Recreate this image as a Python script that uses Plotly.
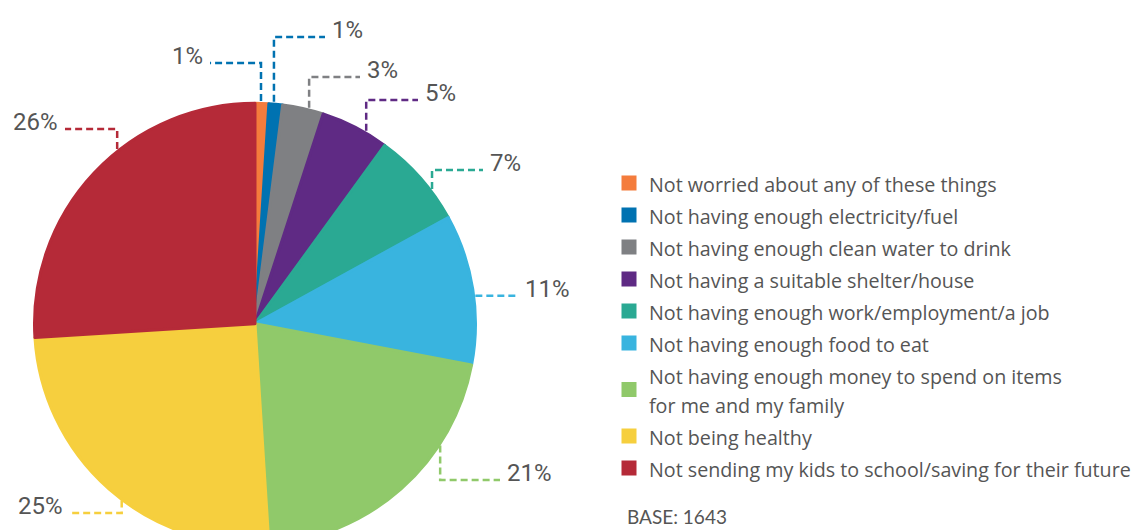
import math
import plotly.graph_objects as go

# ---- data -------------------------------------------------------------
categories = [
    "Not worried about any of these things",
    "Not having enough electricity/fuel",
    "Not having enough clean water to drink",
    "Not having a suitable shelter/house",
    "Not having enough work/employment/a job",
    "Not having enough food to eat",
    "Not having enough money to spend on items<br>for me and my family",
    "Not being healthy",
    "Not sending my kids to school/saving for their future",
]
shares = [1, 1, 3, 5, 7, 11, 21, 25, 26]
base_n = 1643

colors = [
    "#F47C3C", "#0072B1", "#7F8083", "#5F2A84", "#2AA993",
    "#39B4DF", "#90C96A", "#F6CF3E", "#B52A38",
]
# dashed leader colours (both 1% callouts are drawn in blue)
leader_colors = [
    "#0072B1", "#0072B1", "#7F8083", "#5F2A84", "#2AA993",
    "#39B4DF", "#90C96A", "#F6CF3E", "#B52A38",
]

# ---- layout constants (pixels) ---------------------------------------
W, H = 1131, 545
CX, CY, R = 255, 323, 222
TEXT_GREY = "#555555"

# leader style per slice: where on the slice arc it starts (fraction of
# the slice), the y of the horizontal run (None = straight out), and the
# x where the run ends next to the label
leader_frac = [0.43, 0.36, 0.64, 0.67, 0.67, 0.55, 0.30, 0.45, 0.59]
leader_run_y = [63, 37, 77, 100, 170, None, 480, 513, 129]
leader_end_x = [210, 325, 360, 418, 483, 518, 500, 70, 65]


def px(x):
    return x / W


def py(y):
    return 1 - y / H


legend_names = ['<span style="font-size:19.7px">%s</span>' % c for c in categories]

fig = go.Figure(
    go.Pie(
        labels=legend_names,
        values=shares,
        sort=False,
        direction="clockwise",
        rotation=0,
        textinfo="none",
        hoverinfo="label+percent",
        marker=dict(colors=colors, line=dict(color=colors, width=3)),
        domain=dict(x=[px(CX - R + 1.5), px(CX + R - 1.5)],
                    y=[0, py(CY - R + 1.5)]),
        showlegend=True,
    )
)

shapes = []
annotations = []
total = float(sum(shares))
cum = 0.0
for i, v in enumerate(shares):
    ang = math.radians((cum + leader_frac[i] * v) / total * 360.0)
    cum += v
    x0 = CX + R * math.sin(ang)
    y0 = CY - R * math.cos(ang)
    ry = leader_run_y[i]
    ex = leader_end_x[i]
    if ry is None:
        ry = y0
        path = "M%f,%f L%f,%f" % (px(x0), py(y0), px(ex), py(ry))
    else:
        path = "M%f,%f L%f,%f L%f,%f" % (px(x0), py(y0), px(x0), py(ry),
                                          px(ex), py(ry))
    shapes.append(dict(type="path", xref="paper", yref="paper", path=path,
                       line=dict(color=leader_colors[i], width=2.5,
                                 dash="7px,4px")))
    right_side = ex > x0
    annotations.append(dict(
        x=px(ex + (5 if right_side else -5)), y=py(ry - 7),
        xref="paper", yref="paper",
        xanchor="left" if right_side else "right", yanchor="middle",
        text="%d%%" % v, showarrow=False,
        font=dict(family="Roboto", size=24, color=TEXT_GREY),
    ))

annotations.append(dict(
    x=px(625), y=py(516), xref="paper", yref="paper",
    xanchor="left", yanchor="middle", showarrow=False,
    text="BASE: %d" % base_n,
    font=dict(family="Lato", size=19, color=TEXT_GREY),
))

fig.update_layout(
    width=W, height=H, autosize=False,
    margin=dict(l=0, r=0, t=0, b=0, autoexpand=False),
    paper_bgcolor="white", plot_bgcolor="white",
    shapes=shapes, annotations=annotations,
    legend=dict(x=px(609), xanchor="left", y=py(162), yanchor="top",
                font=dict(family="Open Sans", size=22.3, color=TEXT_GREY),
                traceorder="normal", bgcolor="rgba(0,0,0,0)"),
)

fig.write_html(
    "out.html",
    post_script="document.documentElement.style.overflow='hidden';"
                "document.body.style.overflow='hidden';",
)
